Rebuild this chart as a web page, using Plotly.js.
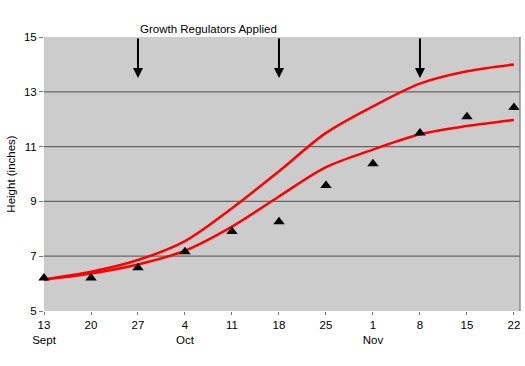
<!DOCTYPE html>
<html>
<head>
<meta charset="utf-8">
<script src="https://cdn.plot.ly/plotly-3.0.1.min.js"></script>
<style>html,body{margin:0;padding:0;background:#fff;}#chart{width:525px;height:366px;}</style>
</head>
<body>
<div id="chart"></div>
<script>
// Days since 13 Sept (weekly samples)
const days = [0, 7, 14, 21, 28, 35, 42, 49, 56, 63, 70];
const tickLabels = ["13<br>Sept", "20", "27", "4<br>Oct", "11", "18", "25", "1<br>Nov", "8", "15", "22"];
const upperCurve = [6.15, 6.43, 6.86, 7.55, 8.75, 10.1, 11.5, 12.47, 13.3, 13.75, 14.0];
const lowerCurve = [6.15, 6.37, 6.7, 7.2, 8.08, 9.18, 10.25, 10.89, 11.45, 11.75, 11.97];
const observed = [6.2, 6.2, 6.58, 7.16, 7.9, 8.26, 9.58, 10.37, 11.5, 12.09, 12.43];
const applicationDays = [14, 35, 56];
const gridVals = [7, 9, 11, 13];

const font = {family: "Liberation Sans, Arial, sans-serif", size: 11.5, color: "#000"};

const traces = [
  {x: days, y: upperCurve, mode: "lines", line: {color: "#ff0000", width: 2.5, shape: "spline", smoothing: 0.9}, hoverinfo: "skip"},
  {x: days, y: lowerCurve, mode: "lines", line: {color: "#ff0000", width: 2.5, shape: "spline", smoothing: 0.9}, hoverinfo: "skip"},
  {x: days, y: observed, mode: "markers", cliponaxis: false, marker: {symbol: "triangle-up", size: 10, color: "#000"}}
];

const shapes = gridVals.map(v => ({type: "line", xref: "paper", x0: 0, x1: 1, yref: "y", y0: v, y1: v, line: {color: "#666", width: 1.2}, layer: "below"}));
shapes.push({type: "line", xref: "paper", x0: 1, x1: 1, yref: "paper", y0: 0, y1: 1, line: {color: "#777", width: 1.2}});

const annotations = applicationDays.map(d => ({
  x: d, y: 13.5, xref: "x", yref: "y", text: "", showarrow: true,
  ax: 0, ay: -41, arrowhead: 2, arrowsize: 1, arrowwidth: 2, arrowcolor: "#000"
}));
annotations.push({x: 24.5, y: 15, xref: "x", yref: "y", yanchor: "bottom", yshift: 0, text: "Growth Regulators Applied", showarrow: false, font: font});

const layout = {
  width: 525, height: 366,
  margin: {l: 44, r: 5, t: 37, b: 55},
  paper_bgcolor: "#fff", plot_bgcolor: "#cccccc",
  showlegend: false,
  font: font,
  xaxis: {range: [0, 70.9], tickvals: days, ticktext: tickLabels, showgrid: false, zeroline: false,
    ticks: "outside", ticklen: 3, tickcolor: "#777", showline: false, tickfont: font, fixedrange: true},
  yaxis: {range: [5, 15], tickvals: [5, 7, 9, 11, 13, 15], showgrid: false, zeroline: false,
    ticks: "outside", ticklen: 4, tickcolor: "#777", showline: false, tickfont: font,
    title: {text: "Height (inches)", font: font, standoff: 5}, fixedrange: true},
  shapes: shapes,
  annotations: annotations
};

Plotly.newPlot("chart", traces, layout, {displayModeBar: false, staticPlot: true});
</script>
</body>
</html>
